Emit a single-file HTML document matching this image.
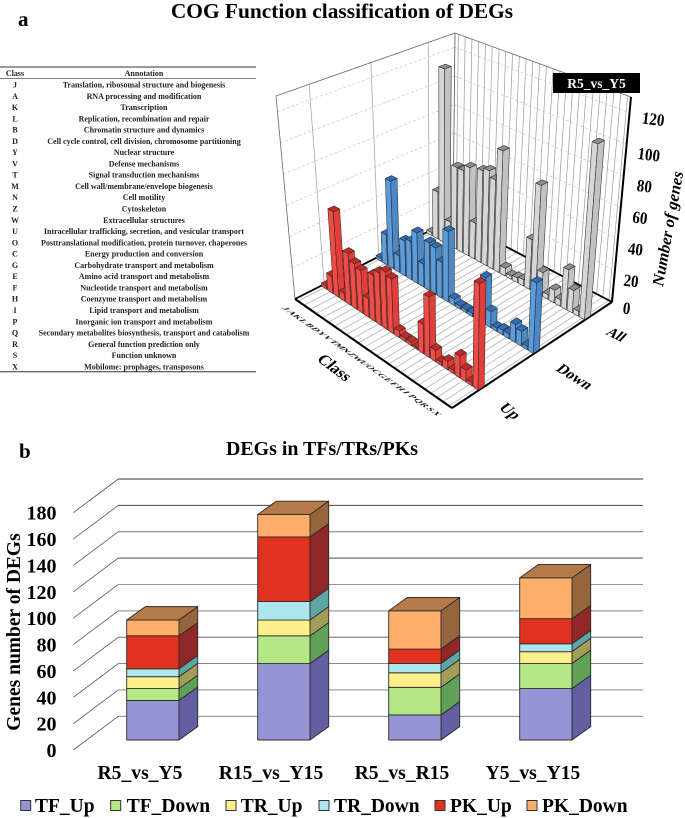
<!DOCTYPE html>
<html lang="en">
<head>
<meta charset="utf-8">
<title>COG Function classification of DEGs</title>
<style>
html,body{margin:0;padding:0;background:#fff;width:685px;height:818px;overflow:hidden}
svg{display:block;font-family:"Liberation Serif",serif;font-weight:bold;filter:blur(0.3px)}
.row text{font-size:8px;fill:#222;text-anchor:middle}
</style>
</head>
<body>
<svg id="figure" width="685" height="818" viewBox="0 0 685 818" xmlns="http://www.w3.org/2000/svg">
<text x="18" y="26" font-size="21">a</text>
<text x="342" y="18" font-size="21.4" text-anchor="middle">COG Function classification of DEGs</text>

<g id="cog-table">
<line x1="0" x2="256" y1="67" y2="67" stroke="#333" stroke-width="1"/>
<line x1="0" x2="256" y1="78.5" y2="78.5" stroke="#555" stroke-width="0.8"/>
<line x1="0" x2="256" y1="371.7" y2="371.7" stroke="#333" stroke-width="1"/>
<g class="row"><text x="15" y="76">Class</text><text x="144" y="76">Annotation</text></g>
<g class="row"><text x="15" y="87.5">J</text><text x="144" y="87.5">Translation, ribosomal structure and biogenesis</text></g>
<g class="row"><text x="15" y="98.8">A</text><text x="144" y="98.8">RNA processing and modification</text></g>
<g class="row"><text x="15" y="110">K</text><text x="144" y="110">Transcription</text></g>
<g class="row"><text x="15" y="121.3">L</text><text x="144" y="121.3">Replication, recombination and repair</text></g>
<g class="row"><text x="15" y="132.6">B</text><text x="144" y="132.6">Chromatin structure and dynamics</text></g>
<g class="row"><text x="15" y="143.9">D</text><text x="144" y="143.9">Cell cycle control, cell division, chromosome partitioning</text></g>
<g class="row"><text x="15" y="155.1">Y</text><text x="144" y="155.1">Nuclear structure</text></g>
<g class="row"><text x="15" y="166.4">V</text><text x="144" y="166.4">Defense mechanisms</text></g>
<g class="row"><text x="15" y="177.7">T</text><text x="144" y="177.7">Signal transduction mechanisms</text></g>
<g class="row"><text x="15" y="189">M</text><text x="144" y="189">Cell wall/membrane/envelope biogenesis</text></g>
<g class="row"><text x="15" y="200.2">N</text><text x="144" y="200.2">Cell motility</text></g>
<g class="row"><text x="15" y="211.5">Z</text><text x="144" y="211.5">Cytoskeleton</text></g>
<g class="row"><text x="15" y="222.8">W</text><text x="144" y="222.8">Extracellular structures</text></g>
<g class="row"><text x="15" y="234.1">U</text><text x="144" y="234.1">Intracellular trafficking, secretion, and vesicular transport</text></g>
<g class="row"><text x="15" y="245.3">O</text><text x="144" y="245.3">Posttranslational modification, protein turnover, chaperones</text></g>
<g class="row"><text x="15" y="256.6">C</text><text x="144" y="256.6">Energy production and conversion</text></g>
<g class="row"><text x="15" y="267.9">G</text><text x="144" y="267.9">Carbohydrate transport and metabolism</text></g>
<g class="row"><text x="15" y="279.2">E</text><text x="144" y="279.2">Amino acid transport and metabolism</text></g>
<g class="row"><text x="15" y="290.4">F</text><text x="144" y="290.4">Nucleotide transport and metabolism</text></g>
<g class="row"><text x="15" y="301.7">H</text><text x="144" y="301.7">Coenzyme transport and metabolism</text></g>
<g class="row"><text x="15" y="313">I</text><text x="144" y="313">Lipid transport and metabolism</text></g>
<g class="row"><text x="15" y="324.3">P</text><text x="144" y="324.3">Inorganic ion transport and metabolism</text></g>
<g class="row"><text x="15" y="335.5">Q</text><text x="144" y="335.5">Secondary metabolites biosynthesis, transport and catabolism</text></g>
<g class="row"><text x="15" y="346.8">R</text><text x="144" y="346.8">General function prediction only</text></g>
<g class="row"><text x="15" y="358.1">S</text><text x="144" y="358.1">Function unknown</text></g>
<g class="row"><text x="15" y="369.4">X</text><text x="144" y="369.4">Mobilome: prophages, transposons</text></g>
</g>

<g id="chart3d"></g>
<rect x="553" y="73" width="87" height="20" fill="#000"/>
<text x="596.5" y="88" font-size="13.5" fill="#fff" text-anchor="middle">R5_vs_Y5</text>
<text transform="translate(316,360) rotate(37) skewX(-14)" font-size="16">Class</text>
<text transform="translate(498,408) rotate(38) skewX(-18)" font-size="15.5">Up</text>
<text transform="translate(555,370) rotate(32) skewX(-18)" font-size="15">Down</text>
<text transform="translate(605,334) rotate(26) skewX(-18)" font-size="14">All</text>
<text transform="translate(663,287) rotate(-80)" font-size="16.5" font-style="italic">Number of genes</text>

<text x="19" y="458" font-size="21">b</text>
<text x="322" y="455" font-size="19.9" text-anchor="middle">DEGs in TFs/TRs/PKs</text>
<g id="chartb"></g>
<text transform="translate(20,632) rotate(-90)" font-size="19.5" text-anchor="middle">Genes number of DEGs</text>
</svg>

<script>
var classLetters = ["J","A","K","L","B","D","Y","V","T","M","N","Z","W","U","O","C","G","E","F","H","I","P","Q","R","S","X"];
var upCounts = [2,11,55,5,33,29,27,12,29,33,36,34,4,2,2,1,18,37,7,2,5,2,13,7,2,63];
var downCounts = [2,20,58,11,23,25,33,15,31,30,23,45,4,2,2,2,14,29,10,2,3,3,11,9,2,43];
var allCounts = [2,32,118,16,55,55,59,24,61,63,59,80,5,2,3,4,32,69,15,3,8,4,25,14,3,110];
var zTicks = [0,20,40,60,80,100,120];

var bCategories = ["R5_vs_Y5","R15_vs_Y15","R5_vs_R15","Y5_vs_Y15"];
var bTicks = [0,20,40,60,80,100,120,140,160,180];
var bSeriesNames = ["TF_Up","TF_Down","TR_Up","TR_Down","PK_Up","PK_Down"];
var tfUp = [30,58,19,39];
var tfDown = [9,21,21,19];
var trUp = [9,12,11,9];
var trDown = [6,14,7,6];
var pkUp = [25,49,11,19];
var pkDown = [12,17,29,31];

var NS = "http://www.w3.org/2000/svg";
function mk(parent, tag, attrs, txt) {
  var e = document.createElementNS(NS, tag);
  for (var k in attrs) e.setAttribute(k, attrs[k]);
  if (txt !== undefined) e.textContent = txt;
  parent.appendChild(e);
  return e;
}
function bilinear(p0, p1, p2, p3) {
  return function(u, v) {
    var ax = p0[0]+(p1[0]-p0[0])*u, ay = p0[1]+(p1[1]-p0[1])*u;
    var bx = p3[0]+(p2[0]-p3[0])*u, by = p3[1]+(p2[1]-p3[1])*u;
    return [ax+(bx-ax)*v, ay+(by-ay)*v];
  };
}

/* ---------- 3D chart ---------- */
(function () {
  var root = document.getElementById("chart3d");
  var floorH = bilinear([295,299],[452,408],[612,302],[453,219]);
  var topH = bilinear([276,96],[452,186],[631,97],[455,33]);
  var Z_MAX = 130, N = classLetters.length;
  function P(u, v, z) {
    var a = floorH(u, v), b = topH(u, v), s = z / Z_MAX;
    return [a[0]+(b[0]-a[0])*s, a[1]+(b[1]-a[1])*s];
  }
  function classU(i) { return (i + 0.5) / N; }
  var rowV = [0.185, 0.53, 0.85];
  function pts(list) { return list.map(function (p) { return p[0].toFixed(2)+","+p[1].toFixed(2); }).join(" "); }
  function seg(a, b, stroke, w, dash, name) {
    var l = mk(root, "line", {x1:a[0],y1:a[1],x2:b[0],y2:b[1],stroke:stroke,"stroke-width":w});
    if (dash) l.setAttribute("stroke-dasharray", dash);
    
    
    return l;
  }
  classLetters.forEach(function (c, i) {
    seg(P(classU(i),0,0), P(classU(i),1,0), "#b4b4b4", 0.8, null, "floor-line");
  });
  classLetters.forEach(function (c, i) {
    seg(P(classU(i),1,0), P(classU(i),1,Z_MAX), "#9a9a9a", 0.7, null, "wall-class-line");
  });
  rowV.forEach(function (v) {
    seg(P(0,v,0), P(0,v,Z_MAX), "#a8a8a8", 0.8, null, "wall-row-line");
  });
  zTicks.slice(1).forEach(function (t) {
    seg(P(0,0,t), P(0,1,t), "#c8c8c8", 0.7, "3 2", "z-gridline-left");
    seg(P(0,1,t), P(1,1,t), "#c8c8c8", 0.7, "3 2", "z-gridline-right");
  });
  seg(P(0,0,0), P(0,0,Z_MAX), "#666", 0.8, null, "left-wall-edge");
  seg(P(0,0,Z_MAX), P(0,1,Z_MAX), "#666", 0.8, null, "left-wall-top-edge");
  seg(P(0,1,0), P(0,1,Z_MAX), "#555", 0.8, null, "back-corner-edge");
  seg(P(0,1,Z_MAX), P(1,1,Z_MAX), "#666", 0.8, null, "right-wall-top-edge");
  seg(P(0,0,0), P(0,1,0), "#000", 1.8, null, "floor-back-left-edge");
  seg(P(0,1,0), P(1,1,0), "#000", 1.8, null, "floor-back-right-edge");
  seg(P(0,0,0), P(1,0,0), "#000", 2, null, "floor-class-edge");
  seg(P(1,0,0), P(1,1,0), "#000", 2, null, "floor-row-edge");
  seg(P(1,1,0), P(1,1,Z_MAX), "#000", 2, null, "z-axis-line");

  var du = 0.85 / N / 2, dv = 0.019;
  function bar(u, v, val, cols, name) {
    var u0=u-du,u1=u+du,v0=v-dv,v1=v+dv;
    var g = mk(root, "g", {stroke:"#2a2a2a","stroke-width":0.55,"stroke-linejoin":"round"});
    
    
    mk(g,"polygon",{fill:cols[0],points:pts([P(u0,v0,0),P(u1,v0,0),P(u1,v0,val),P(u0,v0,val)])});
    mk(g,"polygon",{fill:cols[1],points:pts([P(u1,v0,0),P(u1,v1,0),P(u1,v1,val),P(u1,v0,val)])});
    mk(g,"polygon",{fill:cols[2],points:pts([P(u0,v0,val),P(u1,v0,val),P(u1,v1,val),P(u0,v1,val)])});
  }
  var rows = [
    {values:allCounts, v:rowV[2], cols:["#d6d6d6","#c2c2c2","#8d8d8d"], name:"all-bar"},
    {values:downCounts, v:rowV[1], cols:["#5c9cdb","#4a88c8","#2f6db4"], name:"down-bar"},
    {values:upCounts, v:rowV[0], cols:["#f04c47","#e33d39","#c22a28"], name:"up-bar"}
  ];
  rows.forEach(function (r) {
    r.values.forEach(function (val, i) {
      bar(classU(i), r.v, val, r.cols, r.name);
    });
  });
  zTicks.forEach(function (t) {
    var p = P(1,1,t);
    var x = p[0]+14+t*0.075, y = p[1]+12+((t>0&&t<120)?4:0);
    var tx = mk(root,"text",{transform:"translate("+x.toFixed(1)+","+y.toFixed(1)+") rotate(7) scale(1,1.15)","font-size":15,"text-anchor":"middle"},String(t));
    
    
  });
  classLetters.forEach(function (c, i) {
    var p = P(classU(i),0,0);
    var x = p[0]-15, y = p[1]+8;
    var tx = mk(root,"text",{transform:"translate("+x.toFixed(1)+","+y.toFixed(1)+") rotate(35) skewX(-45) scale(1.1,0.7)","font-size":8.5,"text-anchor":"middle",fill:"#111"},c);
    
    
  });
})();

/* ---------- Stacked 3D column chart ---------- */
(function () {
  var root = document.getElementById("chartb");
  var UNIT = 1.3183, FRONT0 = 750, BACK0 = 716.3, BASE = 740, DX = 18.7, DY = -13.4;
  var FX = 73.3, BX = 118.3, RX = 643, BARW = 52.3;
  var series = [tfUp, tfDown, trUp, trDown, pkUp, pkDown];
  var fills = ["#9595d6","#b3e884","#fbf08a","#ade6ee","#e0321f","#fdae6b"];
  var sides = ["#625fa3","#61a057","#a39e57","#5ea5a6","#912726","#97653b"];
  var gridCols = ["#777","#777","#777","#555","#aaa","#888","#333","#777","#444","#333"];
  function h(v) { return v * UNIT; }
  function barX(i) { return 126.7 + i * 131; }
  bTicks.forEach(function (t, i) {
    var yb = BACK0 - h(t), yf = FRONT0 - h(t);
    var l1 = mk(root,"line",{x1:FX,y1:yf,x2:BX,y2:yb,stroke:"#555","stroke-width":0.8});
    
    
    var l2 = mk(root,"line",{x1:BX,y1:yb,x2:RX,y2:yb,stroke:gridCols[i],"stroke-width":gridCols[i]==="#aaa"?1.4:0.9});
    
    
    var tx = mk(root,"text",{x:56.5,y:yf+7,"font-size":20,"text-anchor":"end"},String(t));
    
    
  });
  bCategories.forEach(function (c, i) {
    var x = barX(i), base = 0;
    series.forEach(function (s, k) {
      var y0 = BASE - h(base), y1 = BASE - h(base + s[i]);
      var g = mk(root,"g",{stroke:"#2a2a2a","stroke-width":0.9,"stroke-linejoin":"round"});
      
      
      mk(g,"polygon",{fill:sides[k],points:[x+BARW,y0,x+BARW+DX,y0+DY,x+BARW+DX,y1+DY,x+BARW,y1].join(" ")});
      mk(g,"rect",{x:x,y:y1,width:BARW,height:y0-y1,fill:fills[k]});
      base += s[i];
    });
    var yt = BASE - h(base);
    var top = mk(root,"polygon",{fill:"#b57a4a",stroke:"#2a2a2a","stroke-width":0.9,"stroke-linejoin":"round",points:[x,yt,x+BARW,yt,x+BARW+DX,yt+DY,x+DX,yt+DY].join(" ")});
    
    
    var lab = mk(root,"text",{x:140+i*131,y:779,"font-size":19.6,"text-anchor":"middle"},c);
    
    
  });
  var swatchX = [20.7,110.7,226,319,435,527];
  var labelX = [35,126.7,240.7,334,450,542];
  bSeriesNames.forEach(function (n, k) {
    var g = mk(root,"g",{});
    
    
    mk(g,"rect",{x:swatchX[k],y:800.5,width:10,height:10,fill:fills[k],stroke:"#333","stroke-width":1});
    mk(g,"text",{x:labelX[k],y:812,"font-size":19.5},n);
  });
})();
</script>
</body>
</html>
